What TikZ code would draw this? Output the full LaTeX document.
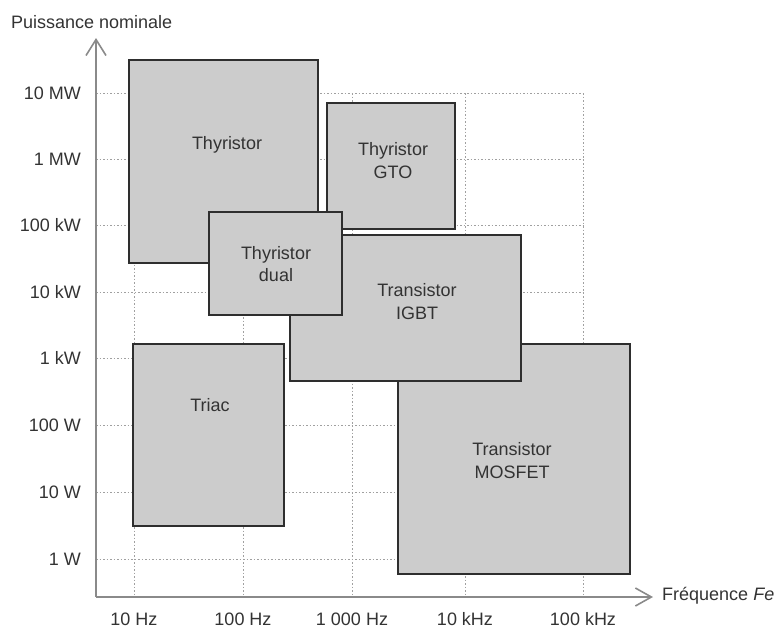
\documentclass[tikz,border=0pt]{standalone}
\usepackage{fontspec}
\setmainfont{Liberation Sans}
\usetikzlibrary{arrows.meta,fit}
\definecolor{boxfill}{HTML}{CCCCCC}
\definecolor{boxline}{HTML}{2E2E2E}
\definecolor{axisc}{HTML}{8A8A8A}
\definecolor{gridc}{HTML}{A0A0A0}
\definecolor{txt}{HTML}{333333}
\begin{document}
\begin{tikzpicture}[x=1pt,y=-1pt,
  every node/.style={text=txt,font=\fontsize{18}{22.5}\selectfont},
  compbox/.style={draw=boxline,line width=2.4pt,fill=boxfill,inner sep=0pt,rectangle},
  lbl/.style={align=center,inner sep=0pt},
  gridline/.style={gridc,line width=1pt,dash pattern=on 1.5pt off 2pt},
  axisline/.style={axisc,line width=1.6pt},
  tick/.style={anchor=base east,inner sep=0pt},
  xtick/.style={anchor=base,inner sep=0pt}]
\useasboundingbox (0,0) rectangle (779,629);
% grid
\foreach \yy in {93,159,225,292,358,425,492,559}
  \draw[gridline] (96,\yy) -- (583,\yy);
\foreach \xx in {134,243,352,465,583}
  \draw[gridline] (\xx,93) -- (\xx,597);
% axes
\coordinate (O) at (96,597);
\coordinate (ytop) at (96,38);
\coordinate (xend) at (653,597);
\draw[axisline,-{Straight Barb[length=16pt,width=20pt]}] (O) -- (ytop);
\draw[axisline,-{Straight Barb[length=16pt,width=18pt]}] (O) -- (xend);
\node[anchor=west,inner sep=0pt] (ylab) at (11,22) {Puissance nominale};
\node[anchor=west,inner sep=0pt] (xlab) at (662,596) {Fréquence \textit{Fe}};
% y tick labels
\node[tick] (p1) at (81,99.5) {10 MW};
\node[tick] (p2) at (81,165.5) {1 MW};
\node[tick] (p3) at (81,231.5) {100 kW};
\node[tick] (p4) at (81,298.5) {10 kW};
\node[tick] (p5) at (81,364.5) {1 kW};
\node[tick] (p6) at (81,431.5) {100 W};
\node[tick] (p7) at (81,498.5) {10 W};
\node[tick] (p8) at (81,565.5) {1 W};
% x tick labels
\node[xtick] (f1) at (134,625) {10 Hz};
\node[xtick] (f2) at (243,625) {100 Hz};
\node[xtick] (f3) at (352,625) {1 000 Hz};
\node[xtick] (f4) at (465,625) {10 kHz};
\node[xtick] (f5) at (583,625) {100 kHz};
% boxes
\node[compbox,fit={(129,60) (318,263)}] (thy) {};
\node[lbl] (thyl) at (227,145) {Thyristor};
\node[compbox,fit={(327,103) (455,229)}] (gto) {};
\node[lbl] (gtol) at (393,160.5) {Thyristor\\GTO};
\node[compbox,fit={(133,344) (284,526)}] (triac) {};
\node[lbl] (triacl) at (210,405) {Triac};
\node[compbox,fit={(398,344) (630,574)}] (mos) {};
\node[lbl] (mosl) at (512,460.5) {Transistor\\MOSFET};
\node[compbox,fit={(290,235) (521,381)}] (igbt) {};
\node[lbl] (igbtl) at (417,301.5) {Transistor\\IGBT};
\node[compbox,fit={(209,212) (342,315)}] (dual) {};
\node[lbl] (duall) at (276,264) {Thyristor\\dual};
\end{tikzpicture}
\end{document}
